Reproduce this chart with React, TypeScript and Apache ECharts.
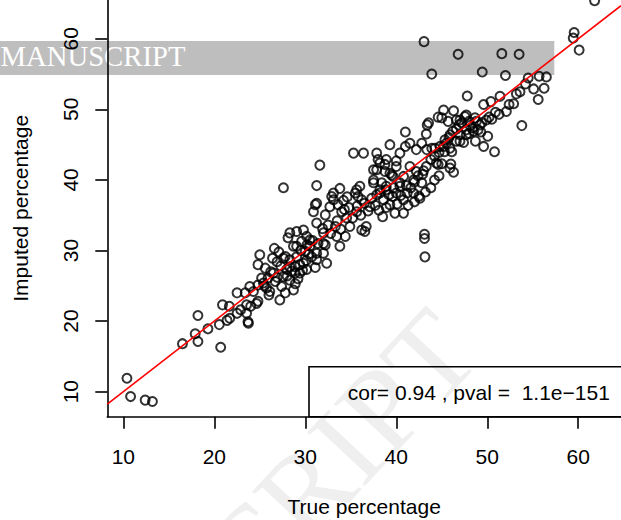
import React, { useEffect, useRef } from "react";
import * as echarts from "echarts";

const xTicks = [10, 20, 30, 40, 50, 60];
const yTicks = [10, 20, 30, 40, 50, 60];
const xTitle = "True percentage";
const yTitle = "Imputed percentage";
const statText = "cor= 0.94 , pval =  1.1e\u2212151";
const bannerText = "MANUSCRIPT";
const watermarkText = "SCRIPT";

// identity line y = x drawn across the plotted range
const identityLine: [number, number][] = [
  [8.24, 8.24],
  [64.7, 64.7],
];

// [true percentage, imputed percentage]
const lowRange: [number, number][] = [
  [10.4, 11.9], [10.8, 9.3], [12.4, 8.8], [13.2, 8.6],
  [16.5, 16.8], [17.9, 18.2], [18.2, 17.1], [18.2, 20.8], [19.3, 18.9], [20.7, 16.3],
  [20.55, 19.5], [20.9, 22.3], [21.4, 20.1], [21.7, 20.4], [21.65, 22.1],
  [22.5, 24.0], [22.5, 21.1], [22.9, 21.6], [23.55, 21.1], [23.7, 19.9], [23.75, 19.7],
  [23.55, 22.3], [23.4, 24.0], [23.9, 24.9], [24.0, 22.1], [24.65, 22.5], [24.3, 24.2],
  [24.8, 22.8], [24.8, 25.1], [24.8, 28.0], [25.6, 27.5], [25.4, 25.4], [25.75, 24.7],
  [26.1, 24.2], [25.2, 26.1], [25.0, 29.4], [26.5, 26.8], [26.7, 25.6], [26.9, 26.2],
  [27.2, 23.0], [27.4, 24.9], [27.6, 26.3], [27.95, 27.3], [28.3, 25.8], [28.7, 24.4],
  [28.9, 26.8], [29.4, 26.8], [29.4, 28.0], [31.1, 27.6], [28.3, 28.7], [28.9, 27.7],
  [29.05, 29.1], [30.0, 29.9], [30.5, 31.5], [32.0, 32.5], [32.2, 30.8], [30.15, 27.3],
  [31.25, 29.6], [32.0, 29.6], [26.6, 30.3],
];

const midRange: [number, number][] = [
  [27.6, 38.9], [31.6, 42.1], [31.25, 39.2], [31.1, 36.5], [30.9, 35.5], [31.25, 33.9],
  [29.8, 32.9], [29.05, 32.7], [28.3, 32.5], [28.1, 31.8], [28.7, 30.6],
  [29.05, 30.6], [30.15, 32.0], [30.5, 30.6], [30.7, 29.1], [32.0, 31.0], [32.2, 35.05],
  [32.9, 37.65], [33.1, 37.2], [32.7, 36.2], [33.3, 33.4], [33.45, 32.0], [33.8, 30.6],
  [34.0, 35.5], [34.55, 34.6], [34.9, 33.4], [34.4, 32.0], [35.65, 38.6], [36.0, 39.1],
  [35.8, 37.65], [36.2, 37.2], [35.65, 35.5], [36.7, 33.4], [36.55, 32.7], [37.1, 36.2],
  [37.5, 39.6], [37.85, 37.9], [38.2, 38.15], [38.6, 37.2], [38.9, 38.6], [39.3, 36.5],
  [39.85, 35.3], [40.8, 35.3], [40.0, 38.15], [40.8, 37.2], [40.4, 39.6], [37.5, 41.45],
  [38.2, 42.4], [38.75, 41.2], [39.65, 40.5], [40.0, 41.9], [35.3, 43.8], [36.4, 43.8],
  [37.85, 43.8], [40.4, 43.8], [27.8, 29.15], [29.8, 28.2], [31.25, 28.7], [32.35, 28.2],
  [28.3, 27.7], [35.5, 38.15], [33.1, 38.15], [31.25, 36.7], [36.2, 32.9],
  [29.5, 30.0], [30.2, 30.8], [30.8, 31.4], [31.4, 31.0], [31.9, 33.1], [32.5, 33.6],
  [32.8, 32.4], [33.5, 34.2], [33.9, 33.0], [34.3, 35.8], [34.8, 36.1], [35.2, 34.6],
  [35.7, 36.3], [36.1, 35.0], [36.5, 36.7], [36.9, 35.6], [37.3, 37.4], [37.7, 36.4],
  [38.1, 35.7], [38.5, 34.8], [38.9, 36.1], [39.2, 37.9], [39.7, 38.9], [40.1, 36.6],
  [40.5, 37.8], [33.6, 36.5], [34.2, 37.1], [34.6, 37.6], [33.8, 38.8],
  [26.2, 27.0], [26.9, 28.4], [27.3, 27.8], [27.6, 28.9], [28.0, 26.4], [28.5, 27.1],
  [29.2, 26.0], [29.7, 27.2], [30.1, 28.6], [30.4, 29.5], [29.6, 31.3], [27.1, 29.8],
  [26.4, 28.9], [25.9, 26.1], [25.5, 25.0], [26.0, 23.7], [27.8, 24.0], [28.9, 25.3],
];

const highRange: [number, number][] = [
  [43.05, 59.6], [46.8, 57.8], [51.6, 57.9], [53.5, 57.8], [43.9, 55.0], [49.45, 55.3],
  [52.0, 54.8], [54.5, 54.45], [55.7, 54.7], [56.5, 54.6], [56.25, 53.0], [55.6, 51.4],
  [53.2, 52.2], [51.4, 51.85], [52.4, 50.7], [52.1, 49.7], [53.8, 47.7], [50.4, 51.1],
  [49.6, 50.7], [50.5, 48.6], [49.9, 48.5], [49.4, 48.1], [47.8, 51.9], [59.55, 60.9],
  [59.45, 60.1], [60.1, 58.4], [61.8, 65.4],
  [45.2, 49.9], [46.3, 49.8], [44.6, 48.9], [45.7, 48.3], [46.6, 48.5], [47.55, 49.0],
  [47.2, 48.1], [48.65, 48.8], [43.4, 47.8], [43.3, 46.5], [41.0, 46.8], [46.6, 47.2],
  [47.7, 46.4], [48.5, 46.9], [49.0, 47.1], [50.05, 46.2], [49.6, 44.75], [50.8, 44.0],
  [45.35, 45.7], [47.0, 45.5], [46.1, 44.0], [44.8, 44.75], [43.9, 44.5], [42.8, 45.2],
  [42.2, 44.3], [41.5, 45.2], [39.3, 45.0], [38.0, 42.9], [38.9, 42.9], [39.5, 40.7],
  [38.4, 39.6], [44.4, 42.4], [45.0, 42.3], [46.0, 42.25], [46.3, 41.1], [41.5, 41.9],
  [42.2, 41.2], [43.0, 41.3], [43.15, 29.1], [43.1, 32.3], [43.1, 31.7], [42.8, 39.6],
  [49.2, 47.8], [45.0, 48.8], [47.0, 48.5], [47.7, 49.2], [48.0, 48.3], [48.8, 48.3],
  [43.55, 48.1], [47.7, 47.1], [48.4, 47.4], [48.0, 46.6], [45.9, 46.4], [46.6, 45.5],
  [47.0, 46.4], [45.5, 45.2], [45.2, 44.75], [45.9, 44.5], [44.25, 44.5], [43.35, 44.3],
  [41.0, 44.75], [44.6, 42.2], [45.9, 41.7], [37.85, 41.45], [38.75, 42.2], [40.0, 42.7],
  [37.5, 40.0], [39.3, 40.95], [40.8, 40.5], [41.9, 40.0], [40.4, 39.1], [38.9, 39.1],
  [38.2, 38.6], [41.2, 38.15], [41.9, 38.15], [42.5, 37.7], [39.6, 37.65],
  [41.1, 39.2], [41.6, 38.9], [42.0, 39.7], [42.4, 40.6], [42.9, 40.8], [43.3, 41.9],
  [43.8, 42.9], [44.2, 43.4], [44.7, 43.9], [45.3, 44.0], [45.8, 46.0], [46.2, 46.9],
  [46.9, 47.8], [47.4, 45.3], [48.1, 47.7], [48.7, 45.5], [49.3, 46.8], [50.2, 48.9],
  [50.9, 49.6], [51.3, 49.3], [52.9, 50.8], [53.6, 52.5], [54.2, 53.6], [55.1, 52.9],
  [41.3, 36.4], [42.0, 36.9], [42.6, 37.4], [43.2, 38.3], [43.8, 38.9], [44.2, 40.0],
  [44.7, 40.6],
];

const points = [...lowRange, ...midRange, ...highRange];

const SANS = '"Liberation Sans", Arial, Helvetica, sans-serif';
const SERIF = '"Liberation Serif", "Times New Roman", serif';

export default function App() {
  const ref = useRef<HTMLDivElement>(null);
  useEffect(() => {
    if (!ref.current) return;
    const chart = echarts.init(ref.current, null, { renderer: "svg" });
    const axisLineStyle = { color: "#000", width: 1.6 };
    chart.setOption({
      animation: false,
      backgroundColor: "#fff",
      grid: { left: 107.3, right: 0, top: 0, bottom: 103.3, containLabel: false, outerBoundsMode: "none" },
      xAxis: {
        type: "value",
        min: 8.24,
        max: 64.7,
        name: xTitle,
        nameLocation: "middle",
        nameGap: 90,
        nameTextStyle: { fontFamily: SANS, fontSize: 21, color: "#000", verticalAlign: "middle" },
        axisLine: { show: true, onZero: false, lineStyle: axisLineStyle },
        axisTick: { show: true, inside: false, length: 12, lineStyle: axisLineStyle, customValues: xTicks },
        axisLabel: { show: true, margin: 29, fontFamily: SANS, fontSize: 21, color: "#000", customValues: xTicks },
        splitLine: { show: false },
      },
      yAxis: {
        type: "value",
        min: 6.45,
        max: 65.5,
        name: yTitle,
        nameLocation: "middle",
        nameGap: 87.3,
        nameRotate: 90,
        nameTextStyle: { fontFamily: SANS, fontSize: 21, color: "#000", verticalAlign: "middle" },
        axisLine: { show: true, onZero: false, lineStyle: axisLineStyle },
        axisTick: { show: true, inside: false, length: 12, lineStyle: axisLineStyle, customValues: yTicks },
        axisLabel: { show: true, rotate: 90, margin: 26, fontFamily: SANS, fontSize: 21, color: "#000", customValues: yTicks },
        splitLine: { show: false },
      },
      graphic: [
        {
          type: "text",
          x: 455,
          y: 330,
          rotation: (47 * Math.PI) / 180,
          z: -30,
          silent: true,
          style: {
            text: watermarkText,
            font: `120px ${SERIF}`,
            fill: "#efefef",
            align: "right",
            verticalAlign: "middle",
          },
        },
        {
          type: "rect",
          z: -20,
          silent: true,
          shape: { x: 0, y: 41, width: 554.3, height: 34 },
          style: { fill: "#bebebe" },
        },
        {
          type: "text",
          x: 0.5,
          y: 55.7,
          z: -19,
          silent: true,
          style: {
            text: bannerText,
            font: `28.7px ${SERIF}`,
            fill: "#ffffff",
            align: "left",
            verticalAlign: "middle",
          },
        },
        {
          type: "rect",
          z: 5,
          silent: true,
          shape: { x: 309, y: 366.7, width: 330, height: 50 },
          style: { fill: "none", stroke: "#000", lineWidth: 1.6 },
        },
        {
          type: "text",
          x: 347.7,
          y: 392.5,
          z: 6,
          silent: true,
          style: {
            text: statText,
            font: `21px ${SANS}`,
            fill: "#000",
            align: "left",
            verticalAlign: "middle",
          },
        },
      ],
      series: [
        {
          type: "scatter",
          data: points,
          symbol: "circle",
          symbolSize: 9,
          clip: false,
          itemStyle: { color: "rgba(0,0,0,0)", borderColor: "#000", borderWidth: 2 },
          z: 2,
        },
        {
          type: "line",
          data: identityLine,
          symbol: "none",
          clip: true,
          lineStyle: { color: "#ff0000", width: 1.6 },
          z: 3,
        },
      ],
    });
    return () => chart.dispose();
  }, []);
  return (
    <div
      ref={ref}
      style={{ position: "absolute", left: 0, top: 0, width: 621, height: 520, background: "#fff" }}
    />
  );
}
